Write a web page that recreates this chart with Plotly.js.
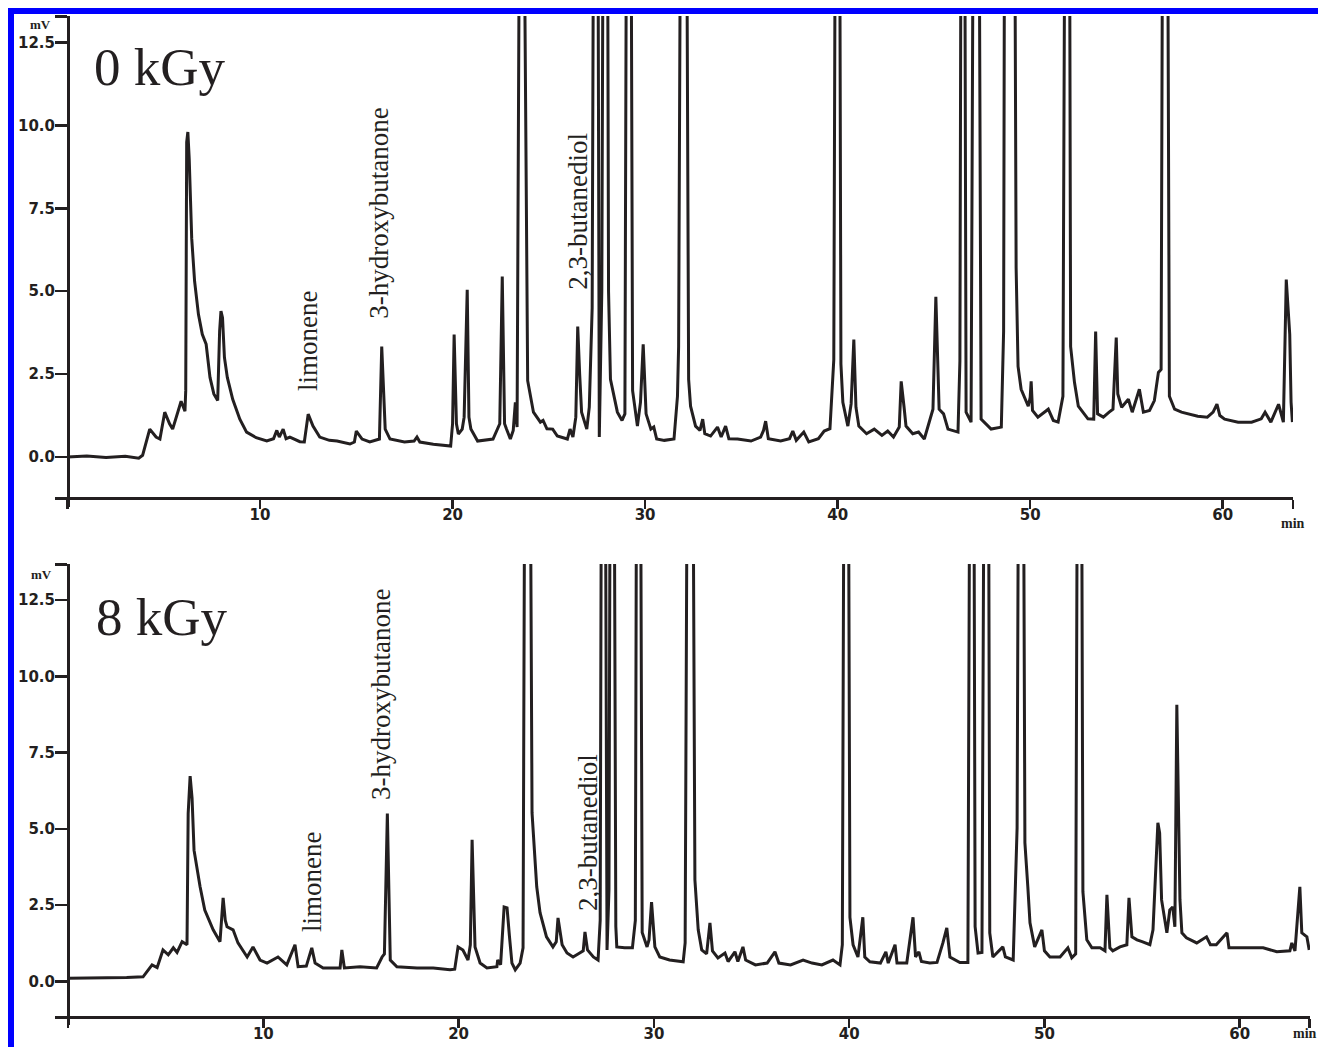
<!DOCTYPE html>
<html><head><meta charset="utf-8">
<script src="https://cdn.plot.ly/plotly-3.0.1.min.js"></script>
<style>html,body{margin:0;padding:0;background:#fff}#chart{width:1318px;height:1047px}</style>
</head><body><div id="chart"></div>
<script>
// Chromatogram 0 kGy: [retention time (min), signal (mV)]
const trace0kGy = [[0,0.0],[1,0.03],[2,-0.02],[3,0.02],[3.7,-0.04],[3.9,0.05],[4.27,0.84],[4.6,0.6],[4.8,0.54],[5.05,1.35],[5.3,1.0],[5.46,0.84],[5.9,1.68],[6.1,1.38],[6.14,2.0],[6.19,9.5],[6.25,9.8],[6.32,9.0],[6.45,6.6],[6.6,5.3],[6.8,4.3],[7.0,3.7],[7.2,3.4],[7.4,2.4],[7.6,1.9],[7.8,1.7],[7.9,3.8],[7.97,4.4],[8.05,4.2],[8.15,3.0],[8.3,2.4],[8.58,1.74],[8.95,1.14],[9.3,0.75],[9.8,0.58],[10.35,0.48],[10.7,0.55],[10.87,0.8],[11.0,0.6],[11.2,0.84],[11.35,0.55],[11.55,0.6],[12.07,0.46],[12.3,0.45],[12.5,1.29],[12.75,0.93],[13.1,0.6],[13.6,0.5],[14.0,0.48],[14.67,0.39],[14.9,0.45],[15.0,0.78],[15.3,0.54],[15.7,0.45],[16.2,0.54],[16.32,3.33],[16.5,0.84],[16.75,0.54],[17.5,0.45],[18.0,0.48],[18.15,0.6],[18.3,0.45],[19.0,0.38],[19.9,0.33],[20.0,1.0],[20.08,3.69],[20.2,1.0],[20.3,0.69],[20.5,0.84],[20.6,1.2],[20.76,5.04],[20.85,1.2],[20.95,0.84],[21.3,0.48],[22.1,0.54],[22.45,1.0],[22.58,5.44],[22.7,1.0],[22.8,0.84],[23.0,0.54],[23.15,0.8],[23.26,1.65],[23.35,0.9],[23.45,14],[23.6,40],[23.75,14],[23.9,2.3],[24.2,1.35],[24.56,1.05],[24.7,1.1],[24.9,0.85],[25.2,0.84],[25.44,0.63],[25.96,0.54],[26.1,0.84],[26.25,0.6],[26.4,1.2],[26.5,3.93],[26.6,2.5],[26.7,1.35],[26.97,0.84],[27.1,1.5],[27.25,4.5],[27.45,40],[27.62,0.6],[27.75,5],[27.95,40],[28.1,5],[28.2,2.34],[28.56,1.35],[28.8,1.1],[28.95,1.3],[29.15,40],[29.35,2.0],[29.6,0.93],[29.76,1.65],[29.9,3.4],[30.05,1.3],[30.3,0.84],[30.45,0.9],[30.6,0.54],[31.0,0.5],[31.5,0.54],[31.68,1.83],[31.74,3.33],[32.0,40],[32.26,2.34],[32.36,1.53],[32.62,0.93],[32.85,0.8],[32.99,1.14],[33.1,0.7],[33.4,0.63],[33.76,0.9],[33.95,0.6],[34.18,0.93],[34.35,0.55],[34.8,0.54],[35.5,0.48],[36.0,0.6],[36.15,0.8],[36.26,1.08],[36.4,0.55],[37.04,0.48],[37.5,0.55],[37.67,0.78],[37.85,0.5],[38.24,0.75],[38.5,0.45],[39.0,0.55],[39.3,0.78],[39.6,0.85],[39.8,2.94],[40.0,40],[40.17,2.8],[40.27,1.65],[40.53,0.93],[40.7,1.6],[40.84,3.54],[40.95,1.5],[41.1,0.93],[41.5,0.7],[41.9,0.84],[42.3,0.65],[42.6,0.78],[42.9,0.6],[43.2,0.9],[43.3,2.28],[43.45,1.5],[43.55,0.93],[43.9,0.7],[44.2,0.75],[44.5,0.54],[44.95,1.44],[45.1,4.83],[45.27,1.44],[45.5,1.3],[45.73,0.84],[46.25,0.75],[46.35,2.9],[46.5,40],[46.67,1.35],[46.93,1.05],[47.2,40],[47.45,1.14],[47.97,0.84],[48.5,0.9],[48.62,3.8],[48.75,40],[48.9,20],[49.05,40],[49.27,5.7],[49.37,2.73],[49.53,2.04],[49.9,1.53],[50.0,1.8],[50.05,2.28],[50.12,1.4],[50.4,1.2],[50.94,1.44],[51.2,1.1],[51.45,1.05],[51.7,1.83],[51.95,40],[52.1,3.33],[52.3,2.25],[52.5,1.53],[53.0,1.15],[53.3,1.14],[53.4,3.78],[53.5,1.3],[53.8,1.2],[54.1,1.35],[54.3,1.44],[54.47,3.6],[54.55,1.9],[54.75,1.5],[55.1,1.74],[55.3,1.35],[55.67,2.04],[55.88,1.35],[56.2,1.4],[56.45,1.7],[56.66,2.55],[56.8,2.64],[57.0,40],[57.23,1.83],[57.5,1.44],[57.86,1.35],[58.2,1.3],[58.7,1.23],[59.2,1.2],[59.5,1.35],[59.7,1.59],[59.85,1.25],[60.1,1.14],[60.8,1.05],[61.5,1.05],[62.0,1.15],[62.2,1.35],[62.5,1.05],[62.9,1.59],[63.15,1.05],[63.3,5.35],[63.48,3.7],[63.55,1.65],[63.62,1.05]];

// Chromatogram 8 kGy: [retention time (min), signal (mV)]
const trace8kGy = [[0,0.1],[1,0.12],[2,0.12],[3,0.13],[3.84,0.15],[4.3,0.54],[4.56,0.45],[4.86,1.03],[5.13,0.87],[5.39,1.1],[5.58,0.95],[5.84,1.3],[6.09,1.2],[6.15,5.5],[6.25,6.73],[6.35,6.0],[6.45,4.3],[6.76,3.1],[7.0,2.34],[7.43,1.69],[7.78,1.3],[7.94,2.74],[8.05,2.0],[8.14,1.79],[8.45,1.69],[8.7,1.26],[9.17,0.8],[9.47,1.13],[9.83,0.7],[10.19,0.6],[10.75,0.8],[11.2,0.54],[11.62,1.2],[11.78,0.48],[12.2,0.5],[12.48,1.1],[12.65,0.6],[13.06,0.44],[13.93,0.44],[14.02,1.03],[14.15,0.44],[14.95,0.48],[15.8,0.44],[16.08,0.8],[16.2,0.9],[16.35,5.5],[16.5,0.7],[16.84,0.48],[17.87,0.44],[18.7,0.44],[19.56,0.38],[19.8,0.4],[19.97,1.13],[20.22,1.03],[20.48,0.7],[20.6,1.2],[20.69,4.64],[20.84,1.13],[21.1,0.6],[21.45,0.44],[21.96,0.48],[22.0,0.7],[22.15,0.55],[22.33,2.44],[22.48,2.41],[22.6,1.5],[22.73,0.6],[22.9,0.38],[23.15,0.6],[23.3,1.1],[23.5,40],[23.76,5.52],[24.0,3.1],[24.17,2.25],[24.5,1.46],[24.83,1.13],[25.0,1.3],[25.09,2.08],[25.3,1.2],[25.55,0.93],[25.86,0.8],[26.2,0.93],[26.38,1.0],[26.47,1.62],[26.6,1.03],[26.9,0.8],[27.14,0.7],[27.25,2.0],[27.4,40],[27.6,1.03],[27.7,3],[27.85,40],[28.05,1.8],[28.1,1.13],[28.5,1.1],[28.9,1.1],[29.05,2.0],[29.2,40],[29.4,1.6],[29.65,1.13],[29.75,1.36],[29.88,2.6],[30.05,1.13],[30.3,0.8],[30.8,0.7],[31.5,0.64],[31.6,1.26],[31.85,40],[32.1,3.33],[32.27,1.69],[32.45,1.03],[32.7,0.9],[32.87,1.92],[33.0,1.0],[33.28,0.77],[33.64,0.93],[33.8,0.65],[34.15,0.97],[34.3,0.65],[34.56,1.13],[34.7,0.7],[35.2,0.54],[35.8,0.6],[36.2,0.97],[36.4,0.6],[37.0,0.54],[37.64,0.7],[38.1,0.6],[38.6,0.54],[39.17,0.7],[39.53,0.54],[39.65,1.2],[39.85,40],[40.04,2.1],[40.2,1.2],[40.45,0.8],[40.7,2.1],[40.8,0.8],[41.06,0.64],[41.6,0.6],[41.88,0.97],[42.0,0.6],[42.35,1.2],[42.45,0.6],[42.95,0.6],[43.27,2.1],[43.4,0.8],[43.57,0.97],[43.7,0.65],[44.13,0.6],[44.5,0.62],[44.8,1.26],[45.0,1.75],[45.16,0.8],[45.67,0.62],[46.08,0.62],[46.3,40],[46.45,1.79],[46.6,0.93],[46.8,0.95],[47.05,40],[47.2,1.59],[47.36,0.8],[47.87,1.13],[48.0,0.8],[48.4,0.7],[48.6,5.03],[48.8,40],[49.0,4.54],[49.15,3.1],[49.26,1.92],[49.5,1.13],[49.87,1.69],[50.0,1.0],[50.28,0.8],[50.8,0.8],[51.2,1.1],[51.4,0.77],[51.6,0.9],[51.8,40],[51.97,2.94],[52.17,1.36],[52.43,1.1],[52.85,1.1],[53.1,1.0],[53.2,2.84],[53.35,1.1],[53.5,1.0],[53.87,1.13],[54.22,1.2],[54.33,2.74],[54.48,1.46],[54.74,1.36],[55.0,1.3],[55.4,1.2],[55.56,1.69],[55.81,5.2],[55.9,4.87],[56.0,2.67],[56.27,1.59],[56.42,2.34],[56.57,2.44],[56.68,1.79],[56.78,9.07],[56.84,6.7],[56.94,2.67],[57.04,1.59],[57.27,1.43],[57.8,1.26],[58.3,1.46],[58.5,1.2],[58.8,1.2],[59.35,1.59],[59.45,1.1],[59.86,1.1],[60.5,1.1],[61.2,1.1],[61.9,0.97],[62.57,1.0],[62.67,1.26],[62.83,1.0],[63.08,3.1],[63.18,1.59],[63.44,1.46],[63.56,1.03]];

const panelNames = ['0 kGy', '8 kGy'];
const compounds = ['limonene', '3-hydroxybutanone', '2,3-butanediol'];
const labelTime0 = [12.49, 16.18, 26.47];
const labelMv0 = [3.5, 7.34, 7.4];
const labelTime8 = [12.49, 16.03, 26.63];
const labelMv8 = [3.26, 9.39, 4.87];
const xTickVals = [0, 10, 20, 30, 40, 50, 60];
const xTickText = ['', '10', '20', '30', '40', '50', '60'];
const yTickVals = [0, 2.5, 5, 7.5, 10, 12.5];
const yTickText = ['0.0', '2.5', '5.0', '7.5', '10.0', '12.5'];
const xEnd0 = 63.64, xEnd8 = 63.58, yTop0 = 13.28, yTop8 = 13.66;

const W = 1318, H = 1047;
const px = v => v / W, py = v => 1 - v / H;
const ink = '#231f20';

const tickFont = {family: 'DejaVu Sans', size: 15, color: ink, weight: 'bold'};

function xAxis(domain, range, pos, end) {
  return {domain: domain, range: range, anchor: 'free', position: pos,
    showline: true, linecolor: ink, linewidth: 3, showgrid: false, zeroline: false,
    ticks: 'outside', ticklen: 9, tickwidth: 2.5, tickcolor: ink, ticklabelstandoff: -7,
    tickmode: 'array', tickvals: xTickVals.concat([end]), ticktext: xTickText.concat(['']),
    tickfont: tickFont, fixedrange: true};
}
function yAxis(domain, range, top) {
  return {domain: domain, range: range, anchor: 'free', position: px(68),
    showline: true, linecolor: ink, linewidth: 3, showgrid: false, zeroline: false,
    ticks: 'outside', ticklen: 12, tickwidth: 2.5, tickcolor: ink, ticklabelstandoff: -3,
    tickmode: 'array', tickvals: yTickVals.concat([top]), ticktext: yTickText.concat(['']),
    tickfont: tickFont, fixedrange: true};
}

const data = [
  {x: trace0kGy.map(p => p[0]), y: trace0kGy.map(p => p[1]), xaxis: 'x', yaxis: 'y',
   type: 'scatter', mode: 'lines', line: {color: ink, width: 3}, hoverinfo: 'skip'},
  {x: trace8kGy.map(p => p[0]), y: trace8kGy.map(p => p[1]), xaxis: 'x2', yaxis: 'y2',
   type: 'scatter', mode: 'lines', line: {color: ink, width: 3}, hoverinfo: 'skip'}
];

const labelFont = {family: 'Liberation Serif', size: 27, color: ink};
const annotations = [];
compounds.forEach((c, i) => {
  annotations.push({text: c, xref: 'x', yref: 'y', x: labelTime0[i], y: labelMv0[i],
    textangle: -90, showarrow: false, xanchor: 'center', yanchor: 'middle', font: labelFont});
  annotations.push({text: c, xref: 'x2', yref: 'y2', x: labelTime8[i], y: labelMv8[i],
    textangle: -90, showarrow: false, xanchor: 'center', yanchor: 'middle', font: labelFont});
});
annotations.push({text: panelNames[0], xref: 'paper', yref: 'paper', x: px(92), y: py(67),
  xanchor: 'left', yanchor: 'middle', showarrow: false,
  font: {family: 'Liberation Serif', size: 53, color: ink}});
annotations.push({text: panelNames[1], xref: 'paper', yref: 'paper', x: px(94), y: py(617),
  xanchor: 'left', yanchor: 'middle', showarrow: false,
  font: {family: 'Liberation Serif', size: 53, color: ink}});
[[40, 25], [41, 574]].forEach(p => annotations.push({text: 'mV', xref: 'paper', yref: 'paper',
  x: px(p[0]), y: py(p[1]), xanchor: 'center', yanchor: 'middle', showarrow: false,
  font: {family: 'Liberation Serif', size: 13, color: ink, weight: 'bold'}}));
[[1293, 523], [1305, 1033]].forEach(p => annotations.push({text: 'min', xref: 'paper', yref: 'paper',
  x: px(p[0]), y: py(p[1]), xanchor: 'center', yanchor: 'middle', showarrow: false,
  font: {family: 'Liberation Serif', size: 14, color: ink, weight: 'bold'}}));

const layout = {
  width: W, height: H, margin: {l: 0, r: 0, t: 0, b: 0},
  paper_bgcolor: '#ffffff', plot_bgcolor: 'rgba(0,0,0,0)', showlegend: false,
  xaxis: xAxis([px(55), px(1293)], [-0.65, 63.65], py(498), xEnd0),
  yaxis: yAxis([py(507), py(16)], [-1.51, 13.3], yTop0),
  xaxis2: xAxis([px(55), px(1310)], [-0.67, 63.6], py(1016.7), xEnd8),
  yaxis2: yAxis([py(1025), py(564)], [-1.43, 13.68], yTop8),
  annotations: annotations,
  shapes: [
    {type: 'rect', xref: 'paper', yref: 'paper', x0: px(8), x1: px(14), y0: 0, y1: py(8),
     fillcolor: '#0000ff', line: {width: 0}},
    {type: 'rect', xref: 'paper', yref: 'paper', x0: px(8), x1: 1, y0: py(14), y1: py(8),
     fillcolor: '#0000ff', line: {width: 0}}
  ]
};

Plotly.newPlot('chart', data, layout, {staticPlot: true, displayModeBar: false});
</script></body></html>
